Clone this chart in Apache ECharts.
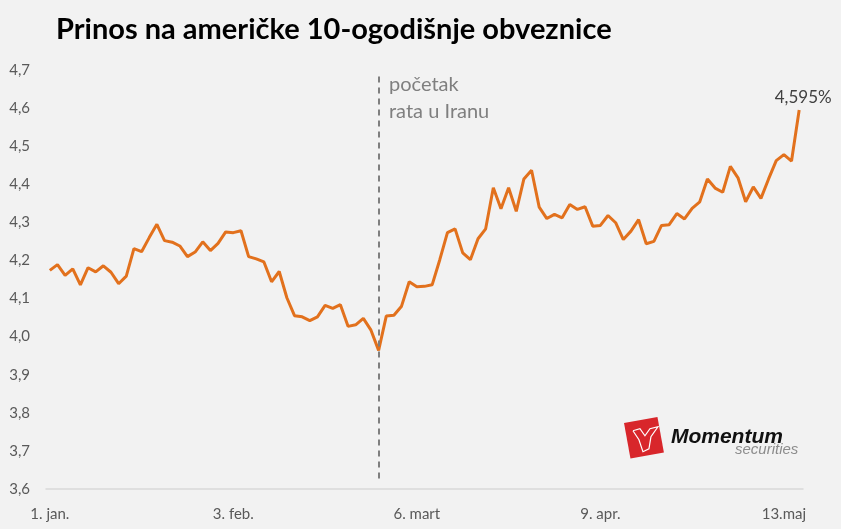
<!DOCTYPE html>
<html>
<head>
<meta charset="utf-8">
<script src="https://cdn.jsdelivr.net/npm/echarts@6/dist/echarts.min.js"></script>
<style>
  html, body { margin: 0; padding: 0; background: #f2f2f2; }
  #chart { width: 841px; height: 529px; }
</style>
</head>
<body>
<div id="chart"></div>
<script>
// prinos (%) - dnevne vrijednosti od 1. jan.
var yields = [
  4.174, 4.189, 4.161, 4.178, 4.136, 4.181, 4.170, 4.186, 4.169, 4.139,
  4.159, 4.231, 4.223, 4.260, 4.295, 4.252, 4.248, 4.238, 4.210, 4.222,
  4.249, 4.226, 4.245, 4.275, 4.273, 4.278, 4.210, 4.204, 4.196, 4.144,
  4.171, 4.102, 4.055, 4.052, 4.042, 4.052, 4.082, 4.074, 4.084, 4.027,
  4.031, 4.048, 4.017, 3.964, 4.054, 4.056, 4.080, 4.144, 4.131, 4.132,
  4.136, 4.202, 4.273, 4.283, 4.220, 4.202, 4.257, 4.283, 4.391, 4.336,
  4.391, 4.329, 4.414, 4.437, 4.340, 4.310, 4.321, 4.312, 4.347, 4.334,
  4.341, 4.290, 4.292, 4.318, 4.299, 4.255, 4.277, 4.307, 4.244, 4.250,
  4.292, 4.294, 4.323, 4.309, 4.337, 4.354, 4.414, 4.390, 4.379, 4.447,
  4.417, 4.354, 4.393, 4.363, 4.414, 4.462, 4.478, 4.461, 4.595
];
// oznake na x osi (svaka 24. tacka)
var tickLabels = ['1. jan.', '3. feb.', '6. mart', '9. apr.', '13.maj'];
var tickStep = 24;
var warIndex = 43; // pocetak rata u Iranu
var warText = ['početak', 'rata u Iranu'];

var categories = yields.map(function (v, i) { return String(i); });
var lastIdx = yields.length - 1;

var chart = echarts.init(document.getElementById('chart'));

var option = {
  backgroundColor: '#f2f2f2',
  animation: false,
  title: {
    text: 'Prinos na američke 10-ogodišnje obveznice',
    left: 51,
    top: 10,
    textStyle: {
      fontFamily: 'Lato',
      fontWeight: 'bold',
      fontSize: 29,
      color: '#000'
    }
  },
  grid: {
    left: 46,
    width: 757,
    top: 70,
    height: 419
  },
  xAxis: {
    type: 'category',
    data: categories,
    boundaryGap: true,
    axisLine: { lineStyle: { color: '#d9d9d9', width: 1.5 } },
    axisTick: { show: false },
    axisLabel: {
      interval: tickStep - 1,
      margin: 18,
      color: '#595959',
      fontSize: 15,
      fontFamily: 'Lato',
      formatter: function (val, idx) { return tickLabels[idx / tickStep] || ''; }
    }
  },
  yAxis: {
    type: 'value',
    min: 3.6,
    max: 4.7,
    interval: 0.1,
    splitLine: { show: false },
    axisLine: { show: false },
    axisTick: { show: false },
    axisLabel: {
      margin: 16,
      color: '#595959',
      fontSize: 15,
      fontFamily: 'Lato',
      formatter: function (v) { return v.toFixed(1).replace('.', ','); }
    }
  },
  series: [{
    type: 'line',
    data: yields,
    symbol: 'none',
    lineStyle: { color: '#e2711d', width: 3 },
    itemStyle: { color: '#e2711d' },
    markPoint: {
      silent: true,
      symbol: 'circle',
      symbolSize: 1,
      itemStyle: { color: 'rgba(0,0,0,0)' },
      label: {
        show: true,
        position: 'top',
        distance: 3,
        offset: [4, 0],
        color: '#404040',
        fontSize: 17,
        fontFamily: 'Lato',
        formatter: function (p) { return p.value.toFixed(3).replace('.', ',') + '%'; }
      },
      data: [{ coord: [lastIdx, yields[lastIdx]], value: yields[lastIdx] }]
    },
    markLine: {
      silent: true,
      symbol: 'none',
      label: { show: false },
      lineStyle: { color: '#7f7f7f', type: [6, 5], width: 2 },
      data: [[{ coord: [warIndex, 4.683] }, { coord: [warIndex, 3.617] }]]
    }
  }],
  graphic: [
    {
      type: 'text',
      left: 389,
      top: 71,
      style: {
        text: warText.join('\n'),
        fill: '#7f7f7f',
        fontSize: 20,
        lineHeight: 27,
        fontFamily: 'Lato'
      }
    },
    {
      type: 'group',
      left: 624,
      top: 417,
      children: [
        {
          type: 'rect',
          shape: { x: 0, y: 0, width: 34, height: 36 },
          rotation: 0.18,
          originX: 17, originY: 18,
          style: { fill: '#d8262b' }
        },
        {
          type: 'polyline',
          shape: { points: [[6, 11], [13, 9], [18, 16], [23, 9], [31, 7], [24, 17], [22, 29], [16, 32], [12, 20], [6, 11]] },
          style: { stroke: '#fff', fill: null, lineWidth: 1.2 }
        },
        {
          type: 'text',
          x: 44, y: 7,
          style: {
            text: 'Momentum',
            fill: '#111',
            fontSize: 21,
            fontWeight: 'bold',
            fontStyle: 'italic',
            fontFamily: 'Liberation Sans'
          }
        },
        {
          type: 'text',
          x: 108, y: 23,
          style: {
            text: 'securities',
            fill: '#8c8c8c',
            fontSize: 15,
            fontStyle: 'italic',
            fontFamily: 'Liberation Sans'
          }
        }
      ]
    }
  ]
};

chart.setOption(option);
</script>
</body>
</html>
